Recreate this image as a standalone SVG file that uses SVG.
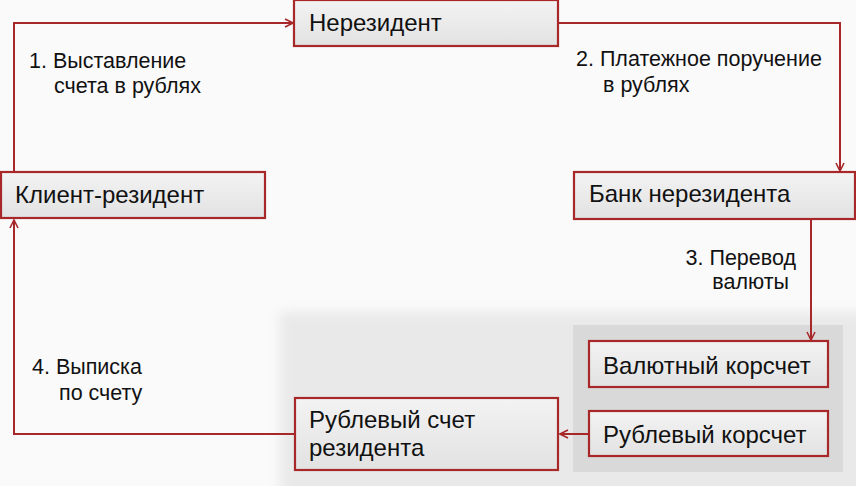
<svg xmlns="http://www.w3.org/2000/svg" width="856" height="486" viewBox="0 0 856 486">
<defs>
<linearGradient id="boxg" x1="0" y1="0" x2="0" y2="1">
<stop offset="0" stop-color="#f3f3f3"/>
<stop offset="1" stop-color="#e2e2e2"/>
</linearGradient>
<filter id="soft" x="-10%" y="-10%" width="120%" height="120%">
<feGaussianBlur stdDeviation="6"/>
</filter>
<marker id="arr" viewBox="0 0 10 10" refX="9" refY="5" markerWidth="10" markerHeight="10" markerUnits="userSpaceOnUse" orient="auto">
<path d="M1,1 L9,5 L1,9" fill="none" stroke="#a8282a" stroke-width="1.6"/>
</marker>
<style>
.box{fill:url(#boxg);stroke:#a8282a;stroke-width:2.2}
.line{fill:none;stroke:#a8282a;stroke-width:2}
.t{font-family:"Liberation Sans",Arial,sans-serif;font-size:24px;fill:#111}
.l{font-family:"Liberation Sans",Arial,sans-serif;font-size:21.5px;fill:#111}
</style>
</defs>
<rect x="0" y="0" width="856" height="486" fill="#fafafa"/>
<rect x="280" y="312" width="600" height="190" fill="#e9e9e9" filter="url(#soft)"/>
<rect x="573" y="325" width="270" height="147" fill="#d9d9d9"/>
<g id="connectors">
<path class="line" d="M14,172 V23 H293" marker-end="url(#arr)"/>
<path class="line" d="M558,23 H840 V171" marker-end="url(#arr)"/>
<path class="line" d="M811,219 V340" marker-end="url(#arr)"/>
<path class="line" d="M589,434 H560" marker-end="url(#arr)"/>
<path class="line" d="M294,434 H14 V220" marker-end="url(#arr)"/>
</g>
<g id="label1"><text class="l" x="29" y="68">1. Выставление</text><text class="l" x="54" y="93">счета в рублях</text></g>
<g id="label2"><text class="l" x="576" y="66">2. Платежное поручение</text><text class="l" x="603" y="92">в рублях</text></g>
<g id="label3"><text class="l" x="796" y="265" text-anchor="end">3. Перевод</text><text class="l" x="789" y="289" text-anchor="end">валюты</text></g>
<g id="label4"><text class="l" x="32" y="374">4. Выписка</text><text class="l" x="59" y="400">по счету</text></g>
<g id="nerezident"><rect class="box" x="294" y="0" width="264" height="46"/><text class="t" x="309" y="31">Нерезидент</text></g>
<g id="klient"><rect class="box" x="1" y="172" width="264" height="46"/><text class="t" x="15" y="203">Клиент-резидент</text></g>
<g id="bank"><rect class="box" x="574" y="172" width="281" height="47"/><text class="t" x="589" y="202">Банк нерезидента</text></g>
<g id="valyut"><rect class="box" x="589" y="341" width="239" height="46"/><text class="t" x="603" y="374">Валютный корсчет</text></g>
<g id="rubkor"><rect class="box" x="589" y="411" width="239" height="45"/><text class="t" x="603" y="443">Рублевый корсчет</text></g>
<g id="rubschet"><rect class="box" x="295" y="398" width="263" height="72"/><text class="t" x="309" y="428">Рублевый счет</text><text class="t" x="309" y="456">резидента</text></g>
</svg>
